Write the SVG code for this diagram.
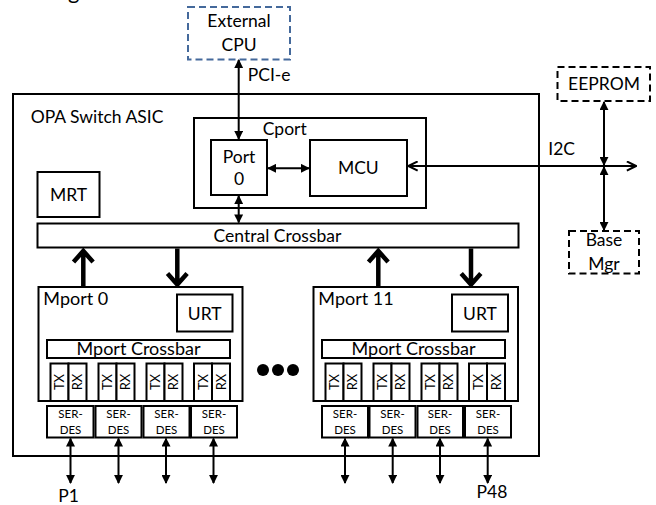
<svg xmlns="http://www.w3.org/2000/svg" width="656" height="505" viewBox="0 0 656 505">
<style>
text{font-family:Lato,"Liberation Sans",sans-serif;fill:#000}
.box{fill:#fff;stroke:#000;stroke-width:2}
.dash{fill:#fff;stroke:#000;stroke-width:2;stroke-dasharray:7,4}
.dashb{fill:#fff;stroke:#44699B;stroke-width:2;stroke-dasharray:7,4}
.l{font-size:17.5px}
.m{font-size:18px}
.c{text-anchor:middle}
.s{font-size:11.5px;text-anchor:middle}
.t{font-size:13px;text-anchor:middle}
.ln{stroke:#000;stroke-width:2;fill:none}
.thick{stroke:#000;stroke-width:4.5;fill:none;stroke-linejoin:miter}
</style>
<defs>
<marker id="a" viewBox="0 0 10 10" refX="9" refY="5" markerWidth="9" markerHeight="9" markerUnits="userSpaceOnUse" orient="auto-start-reverse"><path d="M0,0 L10,5 L0,10 z" fill="#000"/></marker>
<marker id="o" viewBox="0 0 12 12" refX="11" refY="6" markerWidth="11" markerHeight="11" markerUnits="userSpaceOnUse" orient="auto-start-reverse"><path d="M1,1 L11,6 L1,11" fill="none" stroke="#000" stroke-width="2.2"/></marker>
</defs>
<text x="68" y="-1" style="font-size:22px">g</text>
<g id="asic"><rect class="box" x="13" y="94" width="526" height="362"/><text class="l" x="30.7" y="123">OPA Switch ASIC</text></g>
<g id="extcpu"><rect class="dashb" x="188" y="7" width="102" height="52.5"/><text class="l c" x="239" y="27">External</text><text class="l c" x="239" y="50.5">CPU</text></g>
<g id="cport"><rect class="box" x="194" y="118" width="232" height="90"/><text class="l" x="262.7" y="135">Cport</text></g>
<g id="port0"><rect class="box" x="211" y="140" width="56" height="55"/><text class="l c" x="239" y="163">Port</text><text class="l c" x="239" y="185">0</text></g>
<g id="mcu"><rect class="box" x="310" y="140" width="97" height="56"/><text class="l c" x="358.3" y="174">MCU</text></g>
<g id="eeprom"><rect class="dash" x="557.5" y="67" width="92.5" height="34"/><text class="l c" x="604" y="90">EEPROM</text></g>
<g id="basemgr"><rect class="dash" x="569" y="231" width="70" height="42.5"/><text class="l c" x="604" y="246">Base</text><text class="l c" x="604" y="270">Mgr</text></g>
<g id="mrt"><rect class="box" x="37.5" y="172" width="62" height="45"/><text class="l c" x="68.5" y="200.5">MRT</text></g>
<g id="central"><rect class="box" x="37.5" y="223.5" width="481" height="24"/><text class="l c" x="277.5" y="241.5">Central Crossbar</text></g>
<g id="mport0">
<rect class="box" x="38.5" y="287" width="204" height="114"/>
<text class="m" x="43.3" y="305">Mport 0</text>
<rect class="box" x="177" y="294.5" width="55.5" height="37"/><text class="l c" x="204.7" y="320">URT</text>
<rect class="box" x="47" y="340" width="183" height="18"/><text class="m c" x="138.5" y="355">Mport Crossbar</text>
<rect class="box" x="50.5" y="363.5" width="18" height="37.5"/><rect class="box" x="68.5" y="363.5" width="18" height="37.5"/>
<rect class="box" x="98.5" y="363.5" width="18" height="37.5"/><rect class="box" x="116.5" y="363.5" width="18" height="37.5"/>
<rect class="box" x="146.5" y="363.5" width="18" height="37.5"/><rect class="box" x="164.5" y="363.5" width="18" height="37.5"/>
<rect class="box" x="194" y="363.5" width="18" height="37.5"/><rect class="box" x="212" y="363.5" width="18" height="37.5"/>
<text class="t" transform="translate(64,382) rotate(-90)">TX</text><text class="t" transform="translate(82,382) rotate(-90)">RX</text>
<text class="t" transform="translate(112,382) rotate(-90)">TX</text><text class="t" transform="translate(130,382) rotate(-90)">RX</text>
<text class="t" transform="translate(160,382) rotate(-90)">TX</text><text class="t" transform="translate(178,382) rotate(-90)">RX</text>
<text class="t" transform="translate(207.5,382) rotate(-90)">TX</text><text class="t" transform="translate(225.5,382) rotate(-90)">RX</text>
</g>
<g id="serdes0">
<rect class="box" x="47" y="406" width="46.5" height="31.5"/><text class="s" x="70.5" y="417.5">SER-</text><text class="s" x="70.5" y="433.5">DES</text>
<rect class="box" x="95.5" y="406" width="46" height="31.5"/><text class="s" x="118.5" y="417.5">SER-</text><text class="s" x="118.5" y="433.5">DES</text>
<rect class="box" x="143.5" y="406" width="46" height="31.5"/><text class="s" x="166.5" y="417.5">SER-</text><text class="s" x="166.5" y="433.5">DES</text>
<rect class="box" x="191" y="406" width="46" height="31.5"/><text class="s" x="214" y="417.5">SER-</text><text class="s" x="214" y="433.5">DES</text>
</g>
<g id="mport11">
<rect class="box" x="313.5" y="287" width="204.5" height="114"/>
<text class="m" x="318.3" y="305">Mport 11</text>
<rect class="box" x="452" y="294.5" width="56" height="37"/><text class="l c" x="480" y="320">URT</text>
<rect class="box" x="322" y="340" width="183" height="18"/><text class="m c" x="413.5" y="355">Mport Crossbar</text>
<rect class="box" x="325.5" y="363.5" width="18" height="37.5"/><rect class="box" x="343.5" y="363.5" width="18" height="37.5"/>
<rect class="box" x="373.5" y="363.5" width="18" height="37.5"/><rect class="box" x="391.5" y="363.5" width="18" height="37.5"/>
<rect class="box" x="421.5" y="363.5" width="18" height="37.5"/><rect class="box" x="439.5" y="363.5" width="18" height="37.5"/>
<rect class="box" x="469" y="363.5" width="18" height="37.5"/><rect class="box" x="487" y="363.5" width="18" height="37.5"/>
<text class="t" transform="translate(339,382) rotate(-90)">TX</text><text class="t" transform="translate(357,382) rotate(-90)">RX</text>
<text class="t" transform="translate(387,382) rotate(-90)">TX</text><text class="t" transform="translate(405,382) rotate(-90)">RX</text>
<text class="t" transform="translate(435,382) rotate(-90)">TX</text><text class="t" transform="translate(453,382) rotate(-90)">RX</text>
<text class="t" transform="translate(482.5,382) rotate(-90)">TX</text><text class="t" transform="translate(500.5,382) rotate(-90)">RX</text>
</g>
<g id="serdes11">
<rect class="box" x="322" y="406" width="46" height="31.5"/><text class="s" x="345" y="417.5">SER-</text><text class="s" x="345" y="433.5">DES</text>
<rect class="box" x="369.5" y="406" width="46" height="31.5"/><text class="s" x="392.5" y="417.5">SER-</text><text class="s" x="392.5" y="433.5">DES</text>
<rect class="box" x="417.5" y="406" width="45.5" height="31.5"/><text class="s" x="440" y="417.5">SER-</text><text class="s" x="440" y="433.5">DES</text>
<rect class="box" x="465" y="406" width="46" height="31.5"/><text class="s" x="488" y="417.5">SER-</text><text class="s" x="488" y="433.5">DES</text>
</g>
<g id="dots"><circle cx="263" cy="370" r="6"/><circle cx="278" cy="370" r="6"/><circle cx="293" cy="370" r="6"/></g>
<g id="connectors">
<line class="ln" x1="238.7" y1="139" x2="238.7" y2="60" marker-start="url(#a)" marker-end="url(#a)"/>
<text class="l" x="247.7" y="81">PCI-e</text>
<line class="ln" x1="268" y1="168.3" x2="309" y2="168.3" marker-start="url(#a)" marker-end="url(#a)"/>
<line class="ln" x1="238.7" y1="196" x2="238.7" y2="222.5" marker-start="url(#a)" marker-end="url(#a)"/>
<line class="ln" x1="408.5" y1="166" x2="636" y2="166" marker-start="url(#o)" marker-end="url(#o)"/>
<text class="l" x="548.3" y="155">I2C</text>
<line class="ln" x1="604" y1="102" x2="604" y2="165" marker-start="url(#a)" marker-end="url(#a)"/>
<line class="ln" x1="604" y1="167" x2="604" y2="230" marker-start="url(#a)" marker-end="url(#a)"/>
<path class="thick" d="M83.3,287 V250.5 M73.5,262 L83.3,251 L93.1,262"/>
<path class="thick" d="M177.3,248.5 V285 M167.5,273.5 L177.3,284.5 L187.1,273.5"/>
<path class="thick" d="M378.3,287 V250.5 M368.5,262 L378.3,251 L388.1,262"/>
<path class="thick" d="M471,248.5 V285 M461.2,273.5 L471,284.5 L480.8,273.5"/>
<line class="ln" x1="70.5" y1="438.5" x2="70.5" y2="483" marker-start="url(#a)" marker-end="url(#a)"/>
<line class="ln" x1="118.5" y1="438.5" x2="118.5" y2="483" marker-start="url(#a)" marker-end="url(#a)"/>
<line class="ln" x1="166" y1="438.5" x2="166" y2="483" marker-start="url(#a)" marker-end="url(#a)"/>
<line class="ln" x1="213.5" y1="438.5" x2="213.5" y2="483" marker-start="url(#a)" marker-end="url(#a)"/>
<line class="ln" x1="345" y1="438.5" x2="345" y2="483" marker-start="url(#a)" marker-end="url(#a)"/>
<line class="ln" x1="392.7" y1="438.5" x2="392.7" y2="483" marker-start="url(#a)" marker-end="url(#a)"/>
<line class="ln" x1="440" y1="438.5" x2="440" y2="483" marker-start="url(#a)" marker-end="url(#a)"/>
<line class="ln" x1="487.7" y1="438.5" x2="487.7" y2="483" marker-start="url(#a)" marker-end="url(#a)"/>
<text class="l c" x="68.7" y="502">P1</text>
<text class="l c" x="492" y="498">P48</text>
</g>
</svg>
